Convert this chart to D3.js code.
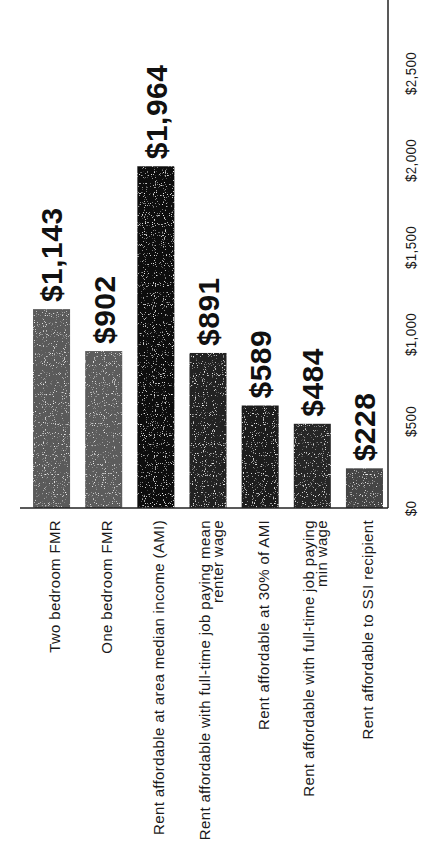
<!DOCTYPE html>
<html>
<head>
<meta charset="utf-8">
<script src="https://cdn.jsdelivr.net/npm/d3@7"></script>
<style>
  html, body { margin: 0; padding: 0; background: #fff; }
  svg { display: block; }
</style>
</head>
<body>
<svg id="chart" width="424" height="857"></svg>
<script>
// Monthly rent comparison, drawn as a column chart turned on its side
const categories = [
  "Two bedroom FMR",
  "One bedroom FMR",
  "Rent affordable at area median income (AMI)",
  "Rent affordable with full-time job paying mean\nrenter wage",
  "Rent affordable at 30% of AMI",
  "Rent affordable with full-time job paying\nmin wage",
  "Rent affordable to SSI recipient"
];
const rents = [1143, 902, 1964, 891, 589, 484, 228];
const barTones = ["#5a5a5a", "#5c5c5c", "#0e0e0e", "#222222", "#1c1c1c", "#282828", "#444444"];
const valueTicks = [0, 500, 1000, 1500, 2000, 2500];

const svg = d3.select("#chart");
const baseY = 508;
const axisX = 388;

// light printed-screen speckle over the columns
const defs = svg.append("defs");
const grain = defs.append("filter").attr("id", "grain")
  .attr("x", 0).attr("y", 0).attr("width", 1).attr("height", 1);
grain.append("feTurbulence")
  .attr("type", "fractalNoise").attr("baseFrequency", 0.9)
  .attr("numOctaves", 1).attr("seed", 7).attr("result", "noise");
grain.append("feColorMatrix")
  .attr("in", "noise").attr("type", "matrix")
  .attr("values", "0 0 0 0 0.85  0 0 0 0 0.85  0 0 0 0 0.85  0 0 0 -7 2.6")
  .attr("result", "specks");
grain.append("feComposite")
  .attr("in", "specks").attr("in2", "SourceGraphic").attr("operator", "in")
  .attr("result", "clipped");
grain.append("feMerge").call(m => {
  m.append("feMergeNode").attr("in", "SourceGraphic");
  m.append("feMergeNode").attr("in", "clipped");
});

const x = d3.scaleBand()
  .domain(categories)
  .range([20, 396])
  .paddingInner(0.29)
  .paddingOuter(0.25);

const y = d3.scaleLinear()
  .domain([0, 2500])
  .range([baseY, 73]);

const money = d3.format("$,");
const sans = "'Liberation Sans', Arial, Helvetica, sans-serif";

// columns
svg.append("g")
  .attr("filter", "url(#grain)")
  .selectAll("rect")
  .data(rents)
  .join("rect")
  .attr("x", (d, i) => x(categories[i]))
  .attr("width", x.bandwidth())
  .attr("y", d => y(d))
  .attr("height", d => baseY - y(d))
  .attr("fill", (d, i) => barTones[i]);

// value labels above each column, reading upward
svg.append("g")
  .selectAll("text")
  .data(rents)
  .join("text")
  .attr("transform", (d, i) =>
    `translate(${x(categories[i]) + x.bandwidth() / 2},${y(d) - 7}) rotate(-90)`)
  .attr("dy", "0.36em")
  .attr("font-family", sans)
  .attr("font-weight", "bold")
  .attr("font-size", 30)
  .attr("letter-spacing", 0.5)
  .attr("fill", "#111")
  .text(d => money(d));

// baseline
svg.append("line")
  .attr("x1", 20).attr("x2", axisX)
  .attr("y1", baseY).attr("y2", baseY)
  .attr("stroke", "#222").attr("stroke-width", 1.5);

// value axis on the right
const valueAxis = d3.axisRight(y)
  .tickValues(valueTicks)
  .tickSize(0)
  .tickFormat(money);

const ax = svg.append("g")
  .attr("transform", `translate(${axisX},0)`)
  .call(valueAxis);
ax.select(".domain").remove();
ax.append("line")
  .attr("x1", 0).attr("x2", 0)
  .attr("y1", 0).attr("y2", baseY)
  .attr("stroke", "#222").attr("stroke-width", 1.5);
ax.selectAll(".tick text")
  .attr("x", 0)
  .attr("dy", "0.36em")
  .attr("transform", "translate(22,0) rotate(-90) scale(0.86,1)")
  .attr("text-anchor", "middle")
  .attr("font-family", sans)
  .attr("font-size", 15.5)
  .attr("letter-spacing", 0.4)
  .attr("fill", "#1a1a1a");

// category labels under the baseline, reading upward
const lineGap = 13;
const cat = svg.append("g")
  .selectAll("text")
  .data(categories)
  .join("text")
  .attr("transform", d => `translate(${x(d) + x.bandwidth() / 2 + 3},520) rotate(-90)`)
  .attr("text-anchor", "end")
  .attr("font-family", sans)
  .attr("font-size", 15)
  .attr("letter-spacing", 0.35)
  .attr("fill", "#1a1a1a");

cat.each(function (d) {
  const lines = d.split("\n");
  const t = d3.select(this);
  lines.forEach((ln, j) => {
    t.append("tspan")
      .attr("x", 0)
      .attr("y", (j - (lines.length - 1) / 2) * lineGap)
      .attr("dy", "0.36em")
      .text(ln);
  });
});
</script>
</body>
</html>
